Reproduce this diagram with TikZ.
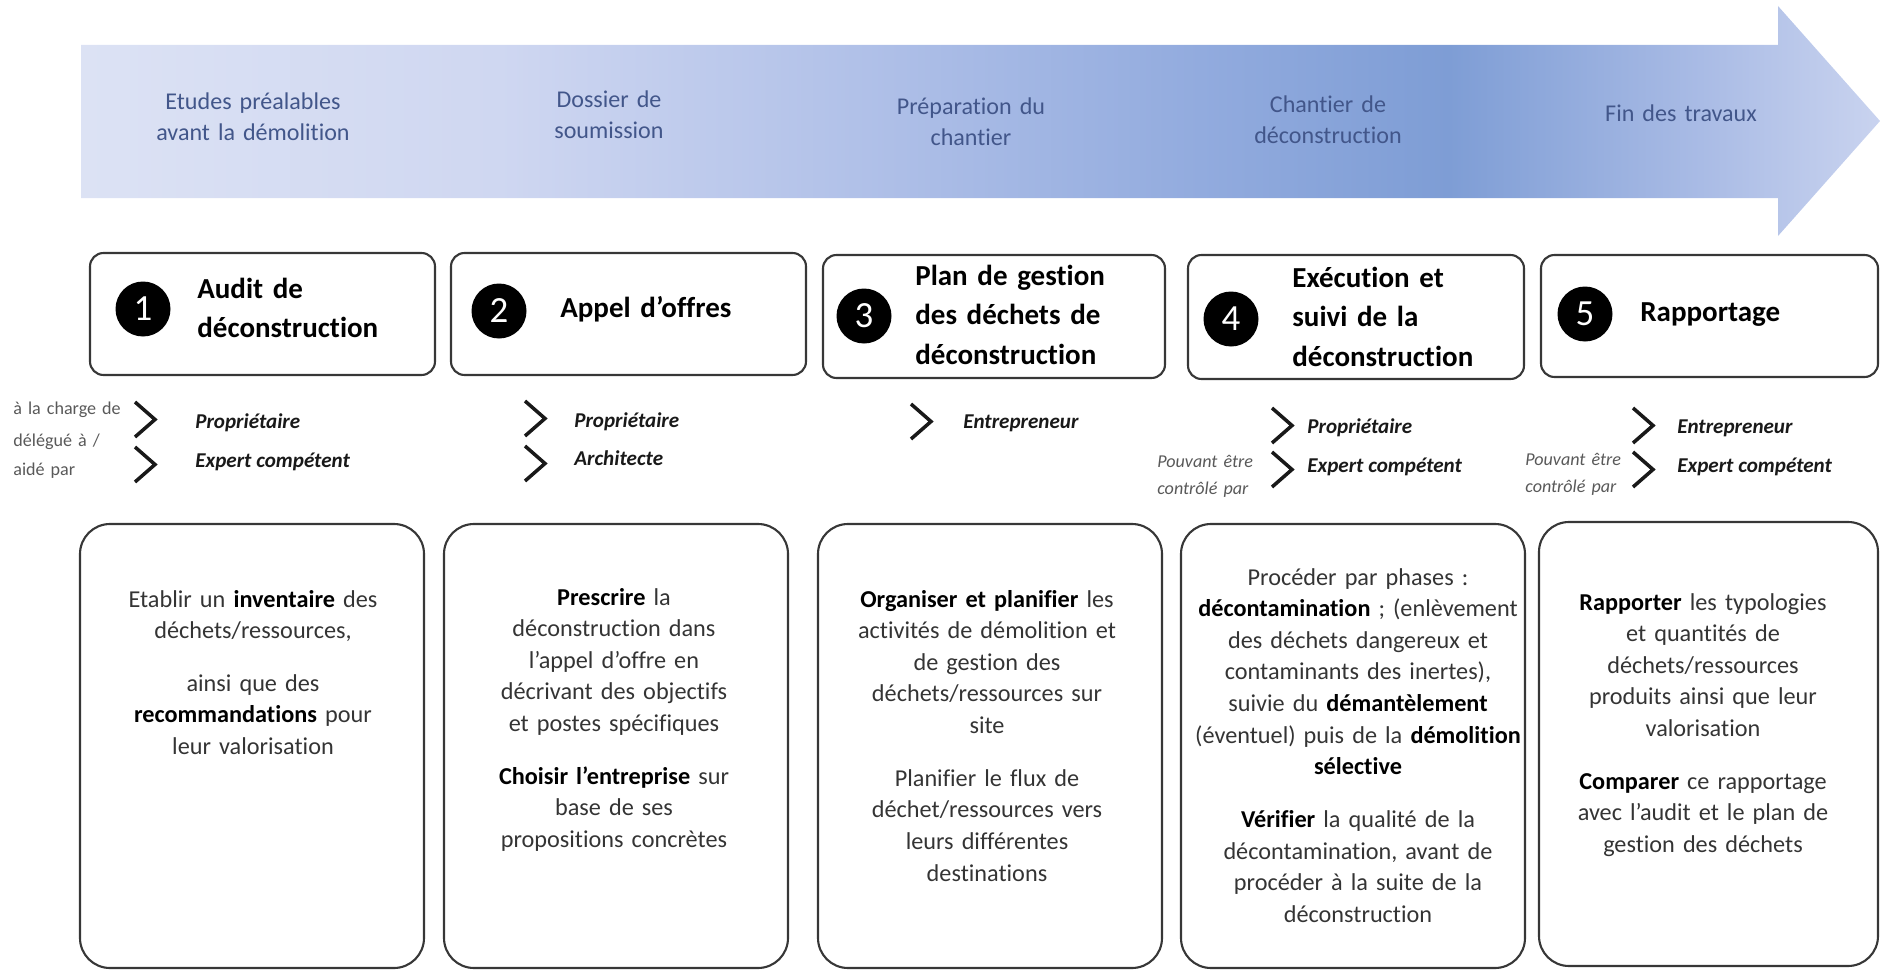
\documentclass[tikz,border=0pt]{standalone}
\usepackage{fontspec}
\setmainfont{Carlito}[Ligatures=NoCommon]
\usepackage{tikz}
\definecolor{arrowtxt}{RGB}{66,86,138}
\definecolor{bodygray}{RGB}{52,52,52}
\definecolor{framegray}{RGB}{55,55,55}
\definecolor{labelgray}{RGB}{89,89,89}
\definecolor{fadeA}{RGB}{220,226,244}
\definecolor{fadeB}{RGB}{207,215,241}
\definecolor{fadeC}{RGB}{173,190,231}
\definecolor{fadeD}{RGB}{146,171,222}
\definecolor{fadeE}{RGB}{126,157,213}
\definecolor{fadeF}{RGB}{169,187,229}
\definecolor{fadeG}{RGB}{201,211,239}
\pgfdeclarehorizontalshading{arrowfade}{100bp}{color(0bp)=(fadeA); color(25bp)=(fadeA); color(36.6bp)=(fadeB); color(47.8bp)=(fadeC); color(56.1bp)=(fadeD); color(63bp)=(fadeE); color(70bp)=(fadeF); color(75bp)=(fadeG); color(100bp)=(fadeG)}
\newcommand{\kw}[1]{{\bfseries\color{black}#1}}
\tikzset{>=latex}
\tikzset{
  phase/.style={text=arrowtxt, text width=5cm, align=center, inner sep=0pt, anchor=base, font=\fontsize{13.7}{17.3}\selectfont},
  titlebox/.style={draw=framegray, line width=1.2pt, rounded corners=0.27cm, inner sep=0pt},
  bodybox/.style={draw=framegray, line width=1.2pt, rounded corners=0.6cm, inner sep=0pt, minimum width=6.88cm, minimum height=8.88cm},
  num/.style={circle, fill=black, text=white, minimum size=1.1cm, inner sep=0pt, font=\fontsize{21}{21}\selectfont},
  stitle/.style={text width=6cm, align=left, inner sep=0pt, anchor=base west, font=\fontsize{16.5}{22.5}\selectfont\bfseries},
  role/.style={inner sep=0pt, anchor=base west, text=black!90, font=\fontsize{12}{12}\selectfont\bfseries\itshape},
  side/.style={text width=3cm, align=left, inner sep=0pt, anchor=base west, text=labelgray, font=\fontsize{10.3}{16.5}\selectfont},
  sideit/.style={side, font=\fontsize{10.3}{15.6}\selectfont\itshape},
  chev/.style={line width=2pt, black!90},
  bodytext/.style={text width=6.8cm, align=center, inner sep=0pt, anchor=base, text=bodygray, font=\fontsize{13.8}{18}\selectfont}
}
\begin{document}
\begin{tikzpicture}
\useasboundingbox (0,0) rectangle (37.6,-19.4);
\shade[shading=arrowfade] (1.62,-0.9) -- (35.56,-0.9) -- (35.56,-0.12) -- (37.6,-2.42) -- (35.56,-4.72) -- (35.56,-3.96) -- (1.62,-3.96) -- cycle;
\node[phase] (s1) at (5.06,-2.2) {Etudes préalables\\avant la démolition};
\node[phase] (s2) at (12.18,-2.16) {Dossier de\\soumission};
\node[phase] (s3) at (19.42,-2.3) {Préparation du\\chantier};
\node[phase] (s4) at (26.56,-2.26) {Chantier de\\déconstruction};
\node[phase] (s5) at (33.62,-2.44) {Fin des travaux};

\node[titlebox, minimum width=6.9cm, minimum height=2.44cm] (t1) at (5.25,-6.28) {};
\node[titlebox, minimum width=7.1cm, minimum height=2.44cm] (t2) at (12.57,-6.28) {};
\node[titlebox, minimum width=6.84cm, minimum height=2.46cm] (t3) at (19.88,-6.33) {};
\node[titlebox, minimum width=6.72cm, minimum height=2.48cm] (t4) at (27.12,-6.34) {};
\node[titlebox, minimum width=6.74cm, minimum height=2.44cm] (t5) at (34.19,-6.32) {};
\node[num] (n1) at (2.86,-6.18) {1};
\node[num] (n2) at (9.98,-6.22) {2};
\node[num] (n3) at (17.28,-6.32) {3};
\node[num] (n4) at (24.62,-6.38) {4};
\node[num] (n5) at (31.7,-6.28) {5};
\node[stitle] (h1) at (3.94,-5.96) {Audit de\\déconstruction};
\node[stitle] (h2) at (11.2,-6.34) {Appel d’offres};
\node[stitle] (h3) at (18.3,-5.7) {Plan de gestion\\des déchets de\\déconstruction};
\node[stitle] (h4) at (25.84,-5.74) {Exécution et\\suivi de la\\déconstruction};
\node[stitle] (h5) at (32.8,-6.42) {Rapportage};

\node[side] (l1) at (0.26,-8.28) {à la charge de};
\node[side] (l2) at (0.26,-8.93) {délégué à /\\aidé par};
\node[sideit] (l3) at (23.14,-9.34) {Pouvant être\\contrôlé par};
\node[sideit] (l4) at (30.5,-9.3) {Pouvant être\\contrôlé par};
\draw[chev] (2.7,-8.04) -- ++(0.4,-0.35) -- ++(-0.4,-0.35);
\draw[chev] (2.7,-8.94) -- ++(0.4,-0.35) -- ++(-0.4,-0.35);
\draw[chev] (10.5,-8.02) -- ++(0.4,-0.35) -- ++(-0.4,-0.35);
\draw[chev] (10.5,-8.92) -- ++(0.4,-0.35) -- ++(-0.4,-0.35);
\draw[chev] (18.22,-8.08) -- ++(0.4,-0.35) -- ++(-0.4,-0.35);
\draw[chev] (25.44,-8.16) -- ++(0.4,-0.35) -- ++(-0.4,-0.35);
\draw[chev] (25.44,-9.04) -- ++(0.4,-0.35) -- ++(-0.4,-0.35);
\draw[chev] (32.66,-8.16) -- ++(0.4,-0.35) -- ++(-0.4,-0.35);
\draw[chev] (32.66,-9.04) -- ++(0.4,-0.35) -- ++(-0.4,-0.35);
\node[role] (r1a) at (3.9,-8.56) {Propriétaire};
\node[role] (r1b) at (3.9,-9.34) {Expert compétent};
\node[role] (r2a) at (11.48,-8.54) {Propriétaire};
\node[role] (r2b) at (11.48,-9.3) {Architecte};
\node[role] (r3a) at (19.26,-8.56) {Entrepreneur};
\node[role] (r4a) at (26.14,-8.66) {Propriétaire};
\node[role] (r4b) at (26.14,-9.44) {Expert compétent};
\node[role] (r5a) at (33.54,-8.66) {Entrepreneur};
\node[role] (r5b) at (33.54,-9.44) {Expert compétent};

\node[bodybox] (b1) at (5.04,-14.92) {};
\node[bodybox] (b2) at (12.32,-14.92) {};
\node[bodybox] (b3) at (19.8,-14.92) {};
\node[bodybox] (b4) at (27.06,-14.92) {};
\node[bodybox, minimum width=6.78cm] (b5) at (34.17,-14.88) {};
\node[bodytext] (d1) at (5.06,-12.14) {Etablir un \kw{inventaire} des\\déchets/ressources,\\[12pt]ainsi que des\\\kw{recommandations} pour\\leur valorisation};
\node[bodytext] (d2) at (12.28,-12.1) {\kw{Prescrire} la\\déconstruction dans\\l’appel d’offre en\\décrivant des objectifs\\et postes spécifiques\\[12pt]\kw{Choisir l’entreprise} sur\\base de ses\\propositions concrètes};
\node[bodytext] (d3) at (19.74,-12.14) {\kw{Organiser et planifier} les\\activités de démolition et\\de gestion des\\déchets/ressources sur\\site\\[12pt]Planifier le flux de\\déchet/ressources vers\\leurs différentes\\destinations};
\node[bodytext] (d4) at (27.16,-11.7) {Procéder par phases :\\\kw{décontamination} ; (enlèvement\\des déchets dangereux et\\contaminants des inertes),\\suivie du \kw{démantèlement}\\(éventuel) puis de la \kw{démolition}\\\kw{sélective}\\[12pt]\kw{Vérifier} la qualité de la\\décontamination, avant de\\procéder à la suite de la\\déconstruction};
\node[bodytext] (d5) at (34.06,-12.2) {\kw{Rapporter} les typologies\\et quantités de\\déchets/ressources\\produits ainsi que leur\\valorisation\\[12pt]\kw{Comparer} ce rapportage\\avec l’audit et le plan de\\gestion des déchets};
\end{tikzpicture}
\end{document}
